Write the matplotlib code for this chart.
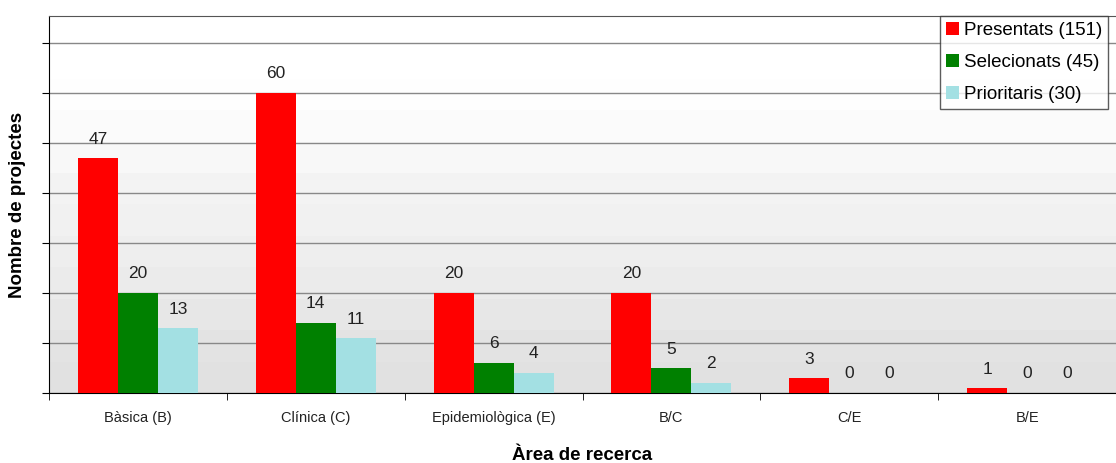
import numpy as np
import matplotlib.pyplot as plt
from matplotlib.patches import Patch

plt.rcParams['font.family'] = ['Liberation Sans', 'DejaVu Sans']

categories = ['Bàsica (B)', 'Clínica (C)', 'Epidemiològica (E)', 'B/C', 'C/E', 'B/E']
presentats = [47, 60, 20, 20, 3, 1]
selecionats = [20, 14, 6, 5, 0, 0]
prioritaris = [13, 11, 4, 2, 0, 0]
series_names = ['Presentats (151)', 'Selecionats (45)', 'Prioritaris (30)']
colors = ['#ff0000', '#008000', '#a3e0e3']

fig = plt.figure(figsize=(11.16, 4.63), dpi=100)
ax = fig.add_axes([49 / 1116, 70 / 463, 1080 / 1116, 377 / 463])

ymax = 75.4
n = len(categories)

# fons degradat (blanc a dalt, gris a baix)
grad = np.linspace(0, 1, 12)
grad = np.clip((grad - 0.15) / 0.85, 0, 1)
img = np.array([1.0 - 0.12 * g for g in grad])[:, None]
ax.imshow(img, cmap='gray', vmin=0, vmax=1, aspect='auto',
          extent=[-0.5, n - 0.5, 0, ymax], origin='upper', zorder=0,
          interpolation='nearest')

x = np.arange(n)
w = 0.225
for i, (vals, col) in enumerate(zip([presentats, selecionats, prioritaris], colors)):
    pos = x + (i - 1) * w
    ax.bar(pos, vals, width=w, color=col, zorder=3)
    for p, v in zip(pos, vals):
        ax.text(p, v + 2.3, str(v), ha='center', va='bottom', fontsize=12.5, color='#222222', zorder=4)

ax.set_xlim(-0.5, n - 0.5 + 0.0731)
ax.set_ylim(0, ymax)
ax.set_yticks(np.arange(0, 80, 10))
ax.set_yticklabels([])
ax.yaxis.grid(True, color='#888888', linewidth=1)
ax.set_axisbelow(True)
for ln in ax.get_ygridlines():
    ln.set_zorder(1)

ax.set_xticks(x)
ax.set_xticklabels(categories, fontsize=10.5, color='#222222')
ax.tick_params(axis='x', length=0, pad=13)
ax.set_xticks(np.arange(-0.5, n, 1), minor=True)
ax.tick_params(axis='x', which='minor', length=5, direction='out')
ax.tick_params(axis='y', length=5, direction='out')

for s in ['top', 'right']:
    ax.spines[s].set_color('#555555')
ax.spines['left'].set_color('black')
ax.spines['bottom'].set_color('black')

ax.set_ylabel('Nombre de projectes', fontsize=13.5, fontweight='bold')
ax.yaxis.set_label_coords(-31 / 1080, 0.5)
ax.set_xlabel('Àrea de recerca', fontsize=13.5, fontweight='bold')
ax.xaxis.set_label_coords(0.5 * 1067 / 1080, -62 / 377)
ax.xaxis.label.set_va('center')
ax.yaxis.label.set_va('center')

handles = [Patch(facecolor=c, edgecolor='none') for c in colors]
leg = ax.legend(handles, series_names, loc='upper left', bbox_to_anchor=(891 / 1080, 1.0),
                fontsize=13.5, frameon=True, fancybox=False, edgecolor='#333333',
                handlelength=0.7, handleheight=0.7, handletextpad=0.3,
                labelspacing=0.8, borderpad=0.3, borderaxespad=0)
leg.get_frame().set_linewidth(1)
leg.set_zorder(5)

fig.savefig('out.png', dpi=100)
